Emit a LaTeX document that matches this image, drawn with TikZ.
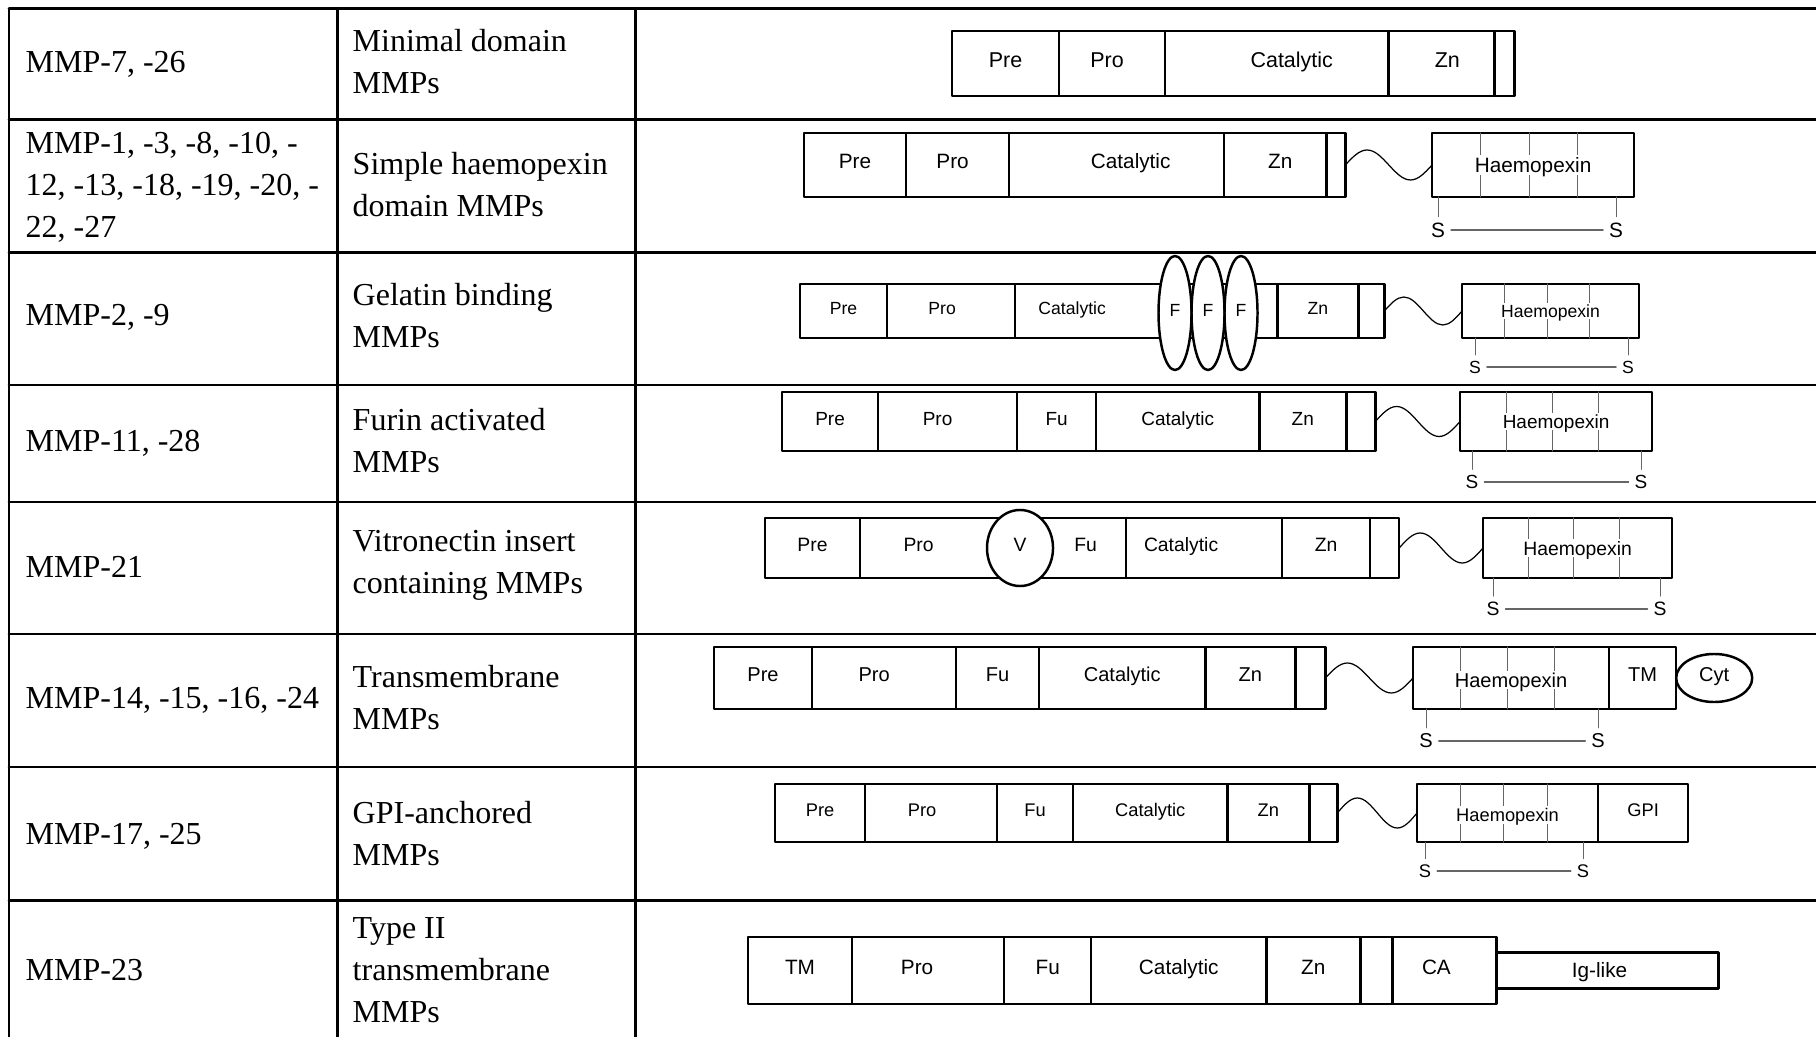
\documentclass[tikz,border=0pt]{standalone}
\usepackage{fontspec}
\setmainfont{Liberation Serif}
\setsansfont{Liberation Sans}
\usetikzlibrary{calc}
\usetikzlibrary{shapes.geometric}

\begin{document}
\begin{tikzpicture}[line cap=round,line join=round,x=0.01cm,y=-0.01cm,
  tbl/.style={line width=0.85pt},
  txt/.style={anchor=west,align=left,inner sep=0pt,font=\fontsize{9.1}{11.95}\selectfont},
  lbl/.style={text height=4.2pt,text depth=2.0pt},
  seg/.style={lbl,draw,fill=white,line width=0.7pt,inner sep=0pt,outer sep=0pt,anchor=west},
  ell/.style={lbl,draw,fill=white,ellipse,line width=0.7pt,inner sep=0pt,outer sep=0pt},
  hxl/.style={fill=white,inner sep=0.6pt,text depth=0pt},
  ss/.style={inner sep=1.5pt},
  thinln/.style={line width=0.3pt,black!60},
  wave/.style={line width=0.35pt}]
\useasboundingbox (0,0) rectangle (1816,1037);

% table
\foreach \y in {9,120,253,385,502,634,767,900}
  \draw[tbl] (9,\y)--(1816,\y);
\foreach \x in {9,337,635}
  \draw[tbl] (\x,9)--(\x,1037);

\node[txt] (n1) at (25,64) {MMP-7, -26};
\node[txt] (c1) at (352,62) {Minimal domain\\MMPs};
\node[txt] (n2) at (25,187) {MMP-1, -3, -8, -10, -\\12, -13, -18, -19, -20, -\\22, -27};
\node[txt] (c2) at (352,185) {Simple haemopexin\\domain MMPs};
\node[txt] (n3) at (25,317) {MMP-2, -9};
\node[txt] (c3) at (352,316) {Gelatin binding\\MMPs};
\node[txt] (n4) at (25,443) {MMP-11, -28};
\node[txt] (c4) at (352,441) {Furin activated\\MMPs};
\node[txt] (n5) at (25,567) {MMP-21};
\node[txt] (c5) at (352,565) {Vitronectin insert\\containing MMPs};
\node[txt] (n6) at (25,700) {MMP-14, -15, -16, -24};
\node[txt] (c6) at (352,698) {Transmembrane\\MMPs};
\node[txt] (n7) at (25,836) {MMP-17, -25};
\node[txt] (c7) at (352,834) {GPI-anchored\\MMPs};
\node[txt] (n8) at (25,970) {MMP-23};
\node[txt] (c8) at (352,970) {Type II\\transmembrane\\MMPs};

% minimal domain
\begin{scope}[font=\sffamily\fontsize{6.1}{7}\selectfont,seg/.append style={minimum height=0.65cm}]
\node[seg,minimum width=1.07cm] (r1pre) at (952,63.5) {Pre};
\node[seg,minimum width=1.06cm] (r1pro) at (r1pre.east) {Pro\kern0.1cm};
\node[seg,minimum width=2.23cm] (r1cat) at (r1pro.east) {};
\node[seg,minimum width=1.06cm] (r1zn) at (r1cat.east) {\kern0.12cm Zn};
\node[seg,minimum width=0.20cm] (r1tl) at (r1zn.east) {};
\node[lbl] (r1catl) at ([xshift=0.15cm]r1cat.center) {Catalytic};
\end{scope}

% simple haemopexin
\begin{scope}[font=\sffamily\fontsize{5.9}{7}\selectfont,seg/.append style={minimum height=0.64cm}]
\node[seg,minimum width=1.02cm] (r2pre) at (804,165) {Pre};
\node[seg,minimum width=1.03cm] (r2pro) at (r2pre.east) {Pro\kern0.1cm};
\node[seg,minimum width=2.15cm] (r2cat) at (r2pro.east) {};
\node[seg,minimum width=1.02cm] (r2zn) at (r2cat.east) {\kern0.1cm Zn};
\node[seg,minimum width=0.19cm] (r2tl) at (r2zn.east) {};
\node[lbl] (r2catl) at ([xshift=0.14cm]r2cat.center) {Catalytic};
\node[seg,minimum width=2.02cm] (r2hx) at (1432,165) {};
\foreach \f in {0.24,0.48,0.72}
  \draw[thinln] ($(r2hx.north west)!\f!(r2hx.north east)$)--($(r2hx.south west)!\f!(r2hx.south east)$);
\node[hxl] (r2hxl) at (r2hx.center) {Haemopexin};
\draw[wave] (r2tl.east) sin ++(21.75,-15) cos ++(21.75,15) sin ++(21.75,15) cos (r2hx.west);
\node[ss] (r2s1) at (1438,230) {S};
\node[ss] (r2s2) at (1616,230) {S};
\draw[thinln] (r2s1.north)--(r2s1.north |- r2hx.south);
\draw[thinln] (r2s2.north)--(r2s2.north |- r2hx.south);
\draw[thinln] (r2s1)--(r2s2);
\end{scope}

% gelatin binding
\begin{scope}[font=\sffamily\fontsize{5.0}{6}\selectfont,seg/.append style={minimum height=0.54cm}]
\node[seg,minimum width=0.87cm] (r3pre) at (800,311) {Pre};
\node[seg,minimum width=1.28cm] (r3pro) at (r3pre.east) {Pro\kern0.18cm};
\node[seg,minimum width=2.62cm] (r3cat) at (r3pro.east) {};
\node[seg,minimum width=0.81cm] (r3zn) at (r3cat.east) {Zn};
\node[seg,minimum width=0.26cm] (r3tl) at (r3zn.east) {};
\node[lbl] (r3catl) at ([xshift=-0.74cm]r3cat.center) {Catalytic};
\node[ell,minimum width=0.33cm,minimum height=1.14cm] (r3f1) at (1175,313) {F};
\node[ell,minimum width=0.33cm,minimum height=1.14cm] (r3f2) at (1208,313) {F};
\node[ell,minimum width=0.33cm,minimum height=1.14cm] (r3f3) at (1241,313) {F};
\node[seg,minimum width=1.77cm] (r3hx) at (1462,311) {};
\foreach \f in {0.24,0.48,0.72}
  \draw[thinln] ($(r3hx.north west)!\f!(r3hx.north east)$)--($(r3hx.south west)!\f!(r3hx.south east)$);
\node[hxl] (r3hxl) at (r3hx.center) {Haemopexin};
\draw[wave] (r3tl.east) sin ++(19.5,-14) cos ++(19.5,14) sin ++(19.5,14) cos (r3hx.west);
\node[ss] (r3s1) at (1475,367) {S};
\node[ss] (r3s2) at (1628,367) {S};
\draw[thinln] (r3s1.north)--(r3s1.north |- r3hx.south);
\draw[thinln] (r3s2.north)--(r3s2.north |- r3hx.south);
\draw[thinln] (r3s1)--(r3s2);
\end{scope}

% furin activated
\begin{scope}[font=\sffamily\fontsize{5.4}{6.5}\selectfont,seg/.append style={minimum height=0.59cm}]
\node[seg,minimum width=0.96cm] (r4pre) at (782,421.5) {Pre};
\node[seg,minimum width=1.39cm] (r4pro) at (r4pre.east) {Pro\kern0.2cm};
\node[seg,minimum width=0.79cm] (r4fu) at (r4pro.east) {Fu};
\node[seg,minimum width=1.63cm] (r4cat) at (r4fu.east) {Catalytic};
\node[seg,minimum width=0.87cm] (r4zn) at (r4cat.east) {Zn};
\node[seg,minimum width=0.29cm] (r4tl) at (r4zn.east) {};
\node[seg,minimum width=1.92cm] (r4hx) at (1460,421.5) {};
\foreach \f in {0.24,0.48,0.72}
  \draw[thinln] ($(r4hx.north west)!\f!(r4hx.north east)$)--($(r4hx.south west)!\f!(r4hx.south east)$);
\node[hxl] (r4hxl) at (r4hx.center) {Haemopexin};
\draw[wave] (r4tl.east) sin ++(21.25,-15) cos ++(21.25,15) sin ++(21.25,15) cos (r4hx.west);
\node[ss] (r4s1) at (1472,482) {S};
\node[ss] (r4s2) at (1641,482) {S};
\draw[thinln] (r4s1.north)--(r4s1.north |- r4hx.south);
\draw[thinln] (r4s2.north)--(r4s2.north |- r4hx.south);
\draw[thinln] (r4s1)--(r4s2);
\end{scope}

% vitronectin insert
\begin{scope}[font=\sffamily\fontsize{5.5}{6.5}\selectfont,seg/.append style={minimum height=0.60cm}]
\node[seg,minimum width=0.95cm] (r5pre) at (765,548) {Pre};
\node[seg,minimum width=1.43cm] (r5pro) at (r5pre.east) {Pro\kern0.26cm};
\node[seg,minimum width=0.93cm] (r5fu) at (1033,548) {\kern0.12cm Fu};
\node[seg,minimum width=1.56cm] (r5cat) at (r5fu.east) {};
\node[seg,minimum width=0.88cm] (r5zn) at (r5cat.east) {Zn};
\node[seg,minimum width=0.29cm] (r5tl) at (r5zn.east) {};
\node[lbl] (r5catl) at ([xshift=-0.23cm]r5cat.center) {Catalytic};
\node[ell,minimum width=0.66cm,minimum height=0.76cm] (r5v) at (1020,548) {V};
\node[seg,minimum width=1.89cm] (r5hx) at (1483,548) {};
\foreach \f in {0.24,0.48,0.72}
  \draw[thinln] ($(r5hx.north west)!\f!(r5hx.north east)$)--($(r5hx.south west)!\f!(r5hx.south east)$);
\node[hxl] (r5hxl) at (r5hx.center) {Haemopexin};
\draw[wave] (r5tl.east) sin ++(21,-15) cos ++(21,15) sin ++(21,15) cos (r5hx.west);
\node[ss] (r5s1) at (1493,609) {S};
\node[ss] (r5s2) at (1660,609) {S};
\draw[thinln] (r5s1.north)--(r5s1.north |- r5hx.south);
\draw[thinln] (r5s2.north)--(r5s2.north |- r5hx.south);
\draw[thinln] (r5s1)--(r5s2);
\end{scope}

% transmembrane
\begin{scope}[font=\sffamily\fontsize{5.7}{7}\selectfont,seg/.append style={minimum height=0.62cm}]
\node[seg,minimum width=0.98cm] (r6pre) at (714,678) {Pre};
\node[seg,minimum width=1.44cm] (r6pro) at (r6pre.east) {Pro\kern0.2cm};
\node[seg,minimum width=0.83cm] (r6fu) at (r6pro.east) {Fu};
\node[seg,minimum width=1.66cm] (r6cat) at (r6fu.east) {Catalytic};
\node[seg,minimum width=0.90cm] (r6zn) at (r6cat.east) {Zn};
\node[seg,minimum width=0.30cm] (r6tl) at (r6zn.east) {};
\node[seg,minimum width=1.96cm] (r6hx) at (1413,678) {};
\node[seg,minimum width=0.67cm] (r6tm) at (r6hx.east) {TM};
\node[ell,anchor=west,minimum width=0.76cm,minimum height=0.48cm] (r6cyt) at (r6tm.east) {Cyt};
\foreach \f in {0.24,0.48,0.72}
  \draw[thinln] ($(r6hx.north west)!\f!(r6hx.north east)$)--($(r6hx.south west)!\f!(r6hx.south east)$);
\node[hxl] (r6hxl) at ([yshift=-0.02cm]r6hx.center) {Haemopexin};
\draw[wave] (r6tl.east) sin ++(22,-15) cos ++(22,15) sin ++(22,15) cos (r6hx.west);
\node[ss] (r6s1) at (1426,741) {S};
\node[ss] (r6s2) at (1598,741) {S};
\draw[thinln] (r6s1.north)--(r6s1.north |- r6hx.south);
\draw[thinln] (r6s2.north)--(r6s2.north |- r6hx.south);
\draw[thinln] (r6s1)--(r6s2);
\end{scope}

% gpi-anchored
\begin{scope}[font=\sffamily\fontsize{5.2}{6.5}\selectfont,seg/.append style={minimum height=0.58cm}]
\node[seg,minimum width=0.90cm] (r7pre) at (775,813) {Pre};
\node[seg,minimum width=1.32cm] (r7pro) at (r7pre.east) {Pro\kern0.18cm};
\node[seg,minimum width=0.76cm] (r7fu) at (r7pro.east) {Fu};
\node[seg,minimum width=1.54cm] (r7cat) at (r7fu.east) {Catalytic};
\node[seg,minimum width=0.82cm] (r7zn) at (r7cat.east) {Zn};
\node[seg,minimum width=0.28cm] (r7tl) at (r7zn.east) {};
\node[seg,minimum width=1.81cm] (r7hx) at (1417,813) {};
\node[seg,minimum width=0.90cm] (r7gpi) at (r7hx.east) {GPI};
\foreach \f in {0.24,0.48,0.72}
  \draw[thinln] ($(r7hx.north west)!\f!(r7hx.north east)$)--($(r7hx.south west)!\f!(r7hx.south east)$);
\node[hxl] (r7hxl) at ([yshift=-0.02cm]r7hx.center) {Haemopexin};
\draw[wave] (r7tl.east) sin ++(20,-15) cos ++(20,15) sin ++(20,15) cos (r7hx.west);
\node[ss] (r7s1) at (1425,871) {S};
\node[ss] (r7s2) at (1583,871) {S};
\draw[thinln] (r7s1.north)--(r7s1.north |- r7hx.south);
\draw[thinln] (r7s2.north)--(r7s2.north |- r7hx.south);
\draw[thinln] (r7s1)--(r7s2);
\end{scope}

% type II transmembrane
\begin{scope}[font=\sffamily\fontsize{5.9}{7}\selectfont,seg/.append style={minimum height=0.67cm}]
\node[seg,minimum width=1.04cm] (r8tm) at (748,970.5) {TM};
\node[seg,minimum width=1.52cm] (r8pro) at (r8tm.east) {Pro\kern0.22cm};
\node[seg,minimum width=0.87cm] (r8fu) at (r8pro.east) {Fu};
\node[seg,minimum width=1.75cm] (r8cat) at (r8fu.east) {Catalytic};
\node[seg,minimum width=0.94cm] (r8zn) at (r8cat.east) {Zn};
\node[seg,minimum width=0.32cm] (r8tl) at (r8zn.east) {};
\node[seg,minimum width=1.04cm] (r8ca) at (r8tl.east) {CA\kern0.16cm};
\node[seg,minimum width=2.22cm,minimum height=0.36cm,text depth=0pt] (r8ig) at (r8ca.east) {Ig-like\kern0.16cm};
\end{scope}
\end{tikzpicture}
\end{document}
